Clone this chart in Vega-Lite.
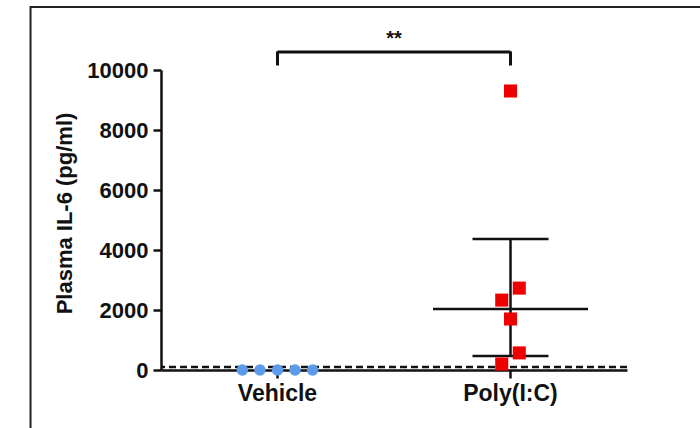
{
  "$schema": "https://vega.github.io/schema/vega-lite/v6.json",
  "width": 466,
  "height": 300,
  "autosize": "none",
  "padding": {"left": 161, "top": 70, "right": 73, "bottom": 58},
  "background": "white",
  "config": {
    "view": {"stroke": null},
    "font": "Liberation Sans",
    "axis": {"labelFont": "Liberation Sans", "titleFont": "Liberation Sans", "labelColor": "#111", "titleColor": "#111", "domainColor": "#111", "tickColor": "#111"}
  },
  "datasets": {
    "obs": [
      {"group": "Vehicle", "slot": "1", "il6": 0},
      {"group": "Vehicle", "slot": "3", "il6": 0},
      {"group": "Vehicle", "slot": "5", "il6": 0},
      {"group": "Vehicle", "slot": "7", "il6": 0},
      {"group": "Vehicle", "slot": "9", "il6": 0},
      {"group": "Poly(I:C)", "slot": "5", "il6": 9300},
      {"group": "Poly(I:C)", "slot": "6", "il6": 2730},
      {"group": "Poly(I:C)", "slot": "4", "il6": 2330},
      {"group": "Poly(I:C)", "slot": "5", "il6": 1700},
      {"group": "Poly(I:C)", "slot": "6", "il6": 570},
      {"group": "Poly(I:C)", "slot": "4", "il6": 200}
    ],
    "summary": [
      {"group": "Poly(I:C)", "mean": 2030, "lo": 470, "hi": 4370}
    ],
    "groups": [
      {"group": "Vehicle"},
      {"group": "Poly(I:C)"}
    ]
  },
  "resolve": {"scale": {"x": "independent"}, "axis": {"x": "independent"}},
  "layer": [
    {
      "data": {"values": [{}]},
      "mark": {"type": "rect", "fill": null, "stroke": "#222", "strokeWidth": 2},
      "encoding": {
        "x": {"datum": -0.28, "type": "quantitative", "scale": {"domain": [0, 1]}, "axis": null},
        "x2": {"datum": 1.16},
        "y": {"datum": 12100, "type": "quantitative", "scale": {"domain": [0, 10000], "nice": false}},
        "y2": {"datum": -2500}
      }
    },
    {
      "encoding": {
        "x": {
          "field": "group", "type": "nominal",
          "scale": {"domain": ["Vehicle", "Poly(I:C)"], "paddingInner": 0, "paddingOuter": 0},
          "axis": {"title": null, "labelAngle": 0, "labelFontSize": 23, "labelFontWeight": "bold", "labelPadding": 4, "tickSize": 8, "tickWidth": 2.5, "domainWidth": 2.5}
        }
      },
      "layer": [
        {
          "data": {"values": [{}]},
          "mark": {"type": "rule", "strokeDash": [7, 4], "strokeWidth": 2.5, "color": "#111"},
          "encoding": {"x": null, "y": {"datum": 100, "type": "quantitative"}}
        },
        {
          "data": {"name": "summary"},
          "mark": {"type": "rule", "strokeWidth": 2.5, "color": "#111"},
          "encoding": {
            "y": {"field": "lo", "type": "quantitative", "scale": {"domain": [0, 10000], "nice": false},
              "axis": {"title": "Plasma IL-6 (pg/ml)", "format": "d", "values": [0, 2000, 4000, 6000, 8000, 10000], "grid": false, "labelFontSize": 22, "labelFontWeight": "bold", "titleFontSize": 22, "titleFontWeight": "bold", "labelPadding": 5, "titlePadding": 10, "titleY": 143, "tickSize": 8, "tickWidth": 2.5, "domainWidth": 2.5}},
            "y2": {"field": "hi"}
          }
        },
        {
          "data": {"name": "summary"},
          "mark": {"type": "tick", "orient": "horizontal", "size": 76, "thickness": 2.5, "color": "#111", "opacity": 1},
          "encoding": {"y": {"field": "hi", "type": "quantitative"}}
        },
        {
          "data": {"name": "summary"},
          "mark": {"type": "tick", "orient": "horizontal", "size": 76, "thickness": 2.5, "color": "#111", "opacity": 1},
          "encoding": {"y": {"field": "lo", "type": "quantitative"}}
        },
        {
          "data": {"name": "summary"},
          "mark": {"type": "tick", "orient": "horizontal", "size": 155, "thickness": 2.5, "color": "#111", "opacity": 1},
          "encoding": {"y": {"field": "mean", "type": "quantitative"}}
        },
        {
          "data": {"values": [{}]},
          "mark": {"type": "rule", "strokeWidth": 3, "color": "#111"},
          "encoding": {
            "x": {"datum": "Vehicle"},
            "x2": {"datum": "Poly(I:C)"},
            "y": {"datum": 10600, "type": "quantitative"}
          }
        },
        {
          "data": {"name": "groups"},
          "mark": {"type": "rule", "strokeWidth": 3, "color": "#111"},
          "encoding": {
            "y": {"datum": 10150, "type": "quantitative"},
            "y2": {"datum": 10620}
          }
        },
        {
          "data": {"values": [{}]},
          "mark": {"type": "text", "text": "**", "fontSize": 20, "fontWeight": "bold", "color": "#111", "baseline": "middle"},
          "encoding": {
            "x": {"datum": "Poly(I:C)", "bandPosition": 0},
            "y": {"datum": 11050, "type": "quantitative"}
          }
        },
        {
          "data": {"name": "obs"},
          "transform": [{"filter": "datum.group === 'Vehicle'"}],
          "mark": {"type": "circle", "size": 135, "color": "#5b9bea", "opacity": 1},
          "encoding": {
            "xOffset": {"field": "slot", "type": "nominal", "scale": {"type": "point", "domain": ["1","2","3","4","5","6","7","8","9"], "range": [77, 156]}},
            "y": {"field": "il6", "type": "quantitative"}
          }
        },
        {
          "data": {"name": "obs"},
          "transform": [{"filter": "datum.group === 'Poly(I:C)'"}],
          "mark": {"type": "square", "size": 170, "color": "#ee0000", "opacity": 1},
          "encoding": {
            "xOffset": {"field": "slot", "type": "nominal", "scale": {"type": "point", "domain": ["1","2","3","4","5","6","7","8","9"], "range": [77, 156]}},
            "y": {"field": "il6", "type": "quantitative"}
          }
        }
      ]
    }
  ]
}
